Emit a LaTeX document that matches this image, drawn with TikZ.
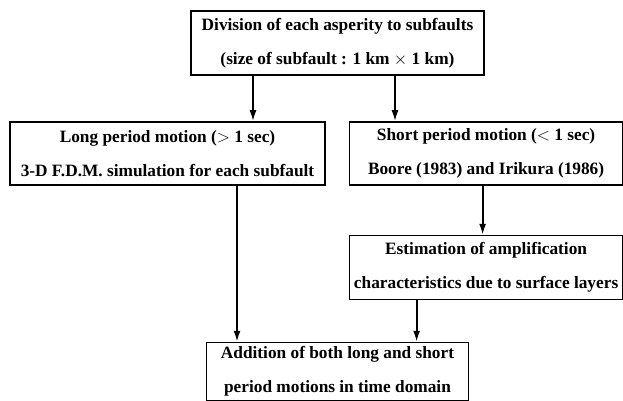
\documentclass[tikz,border=0pt]{standalone}
\usepackage{fontspec}
\setmainfont{Liberation Serif}
\usepackage{tikz}
\usetikzlibrary{positioning,arrows.meta}

\begin{document}
\begin{tikzpicture}[
  box/.style={draw, line width=1.6pt, inner sep=0pt, align=center, font=\bfseries\fontsize{17.3}{34}\selectfont},
  arrow/.style={-{Latex[length=11pt,width=7pt]}, line width=1.8pt}]
\useasboundingbox (0,0) rectangle (623pt,400pt);
\node[box, minimum width=293pt, minimum height=64pt] (division) at (337.5pt,357pt)
  {Division of each asperity to subfaults\\(size of subfault : 1 km $\times$ 1 km)};
\node[box, minimum width=315pt, minimum height=63pt] (long) at (167.5pt,246.5pt)
  {Long period motion ($>$ 1 sec)\\3-D F.D.M. simulation for each subfault};
\node[box, right=23pt of long, minimum width=273pt, minimum height=63pt] (short)
  {Short period motion ($<$ 1 sec)\\Boore (1983) and Irikura (1986)};
\node[box, below=49pt of short, minimum width=273pt, minimum height=64pt] (amp)
  {Estimation of amplification\\characteristics due to surface layers};
\node[box, below=266pt of division, minimum width=262pt, minimum height=58pt] (add)
  {Addition of both long and short\\period motions in time domain};
\draw[arrow] ([xshift=-84.5pt]division.south) -- ([xshift=-84.5pt]division.south |- long.north);
\draw[arrow] ([xshift=57.5pt]division.south) -- ([xshift=57.5pt]division.south |- short.north);
\draw[arrow] ([xshift=-3.5pt]short.south) -- ([xshift=-3.5pt]short.south |- amp.north);
\draw[arrow] ([xshift=69.5pt]long.south) -- ([xshift=69.5pt]long.south |- add.north);
\draw[arrow] ([xshift=-69.5pt]amp.south) -- ([xshift=-69.5pt]amp.south |- add.north);
\end{tikzpicture}
\end{document}
